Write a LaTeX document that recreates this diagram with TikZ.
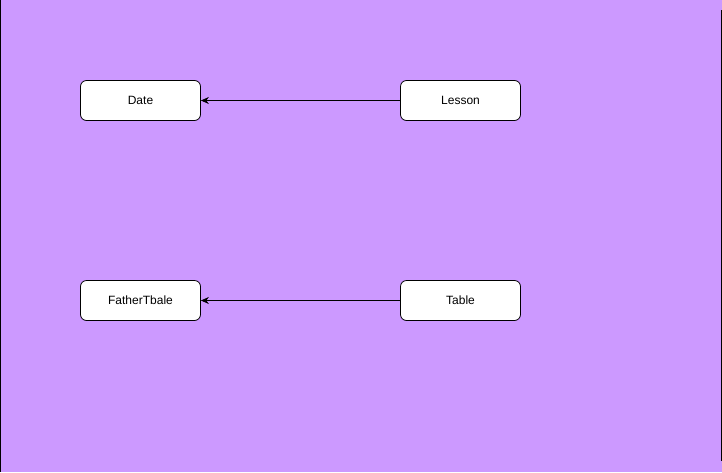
\documentclass[tikz,border=0pt]{standalone}
\usepackage{fontspec}
\setmainfont{Liberation Sans}
\usetikzlibrary{arrows.meta, positioning}
\definecolor{bgpurple}{HTML}{CC99FF}

\begin{document}
\begin{tikzpicture}[x=1pt, y=-1pt,
    entity/.style={draw=black, fill=white, rounded corners=6pt, minimum width=120pt, minimum height=40pt, line width=0.8pt, font=\fontsize{12}{14}\selectfont},
    link/.style={-{Stealth[length=8pt, width=7pt]}, line width=0.8pt}]
  % background
  \fill[bgpurple] (0,0) rectangle (722,472);
  \useasboundingbox (0,0) rectangle (722,472);
  \draw[line width=1.2pt] (0.6,0) -- (0.6,472);
  \draw[line width=1.2pt] (721.4,10) -- (721.4,461);
  % tables
  \node[entity] (date) at (140.5,100.5) {Date};
  \node[entity] (lesson) at (460.5,100.5) {Lesson};
  \node[entity] (father) at (140.5,300.5) {FatherTbale};
  \node[entity] (table) at (460.5,300.5) {Table};
  % links
  \draw[link] (lesson) -- (date);
  \draw[link] (table) -- (father);
\end{tikzpicture}
\end{document}
